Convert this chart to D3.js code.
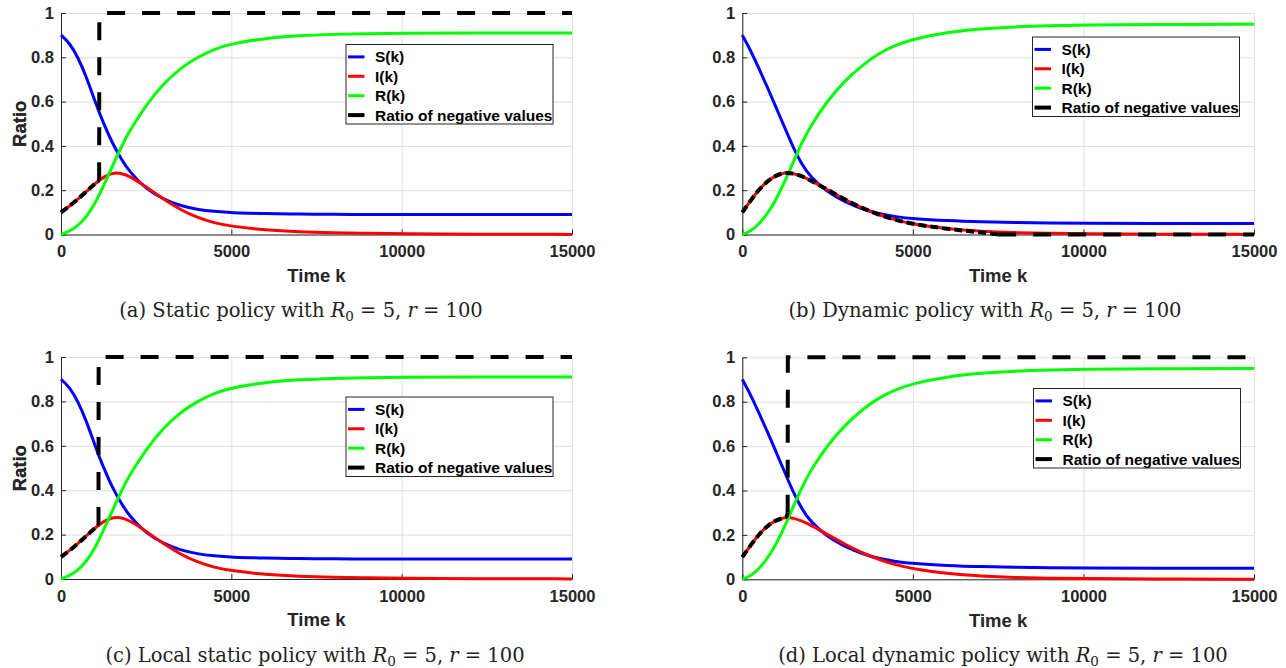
<!DOCTYPE html>
<html lang="en">
<head>
    <meta charset="utf-8"/>
    <title>SIR policies</title>
    <script src="https://d3js.org/d3.v7.min.js"></script>
    <style>
        body { margin: 0; background: #fff; }
        svg text { font-family: "Liberation Sans", Arial, sans-serif; }
        .tick text { font-weight: bold; font-size: 16.5px; fill: #262626; }
        .caption { font-family: "DejaVu Serif", "Liberation Serif", serif; font-size: 19.5px; fill: #222; }
    </style>
</head>
<body>
<svg id="fig" width="1286" height="668"></svg>
<script>
    const timeK = [0, 250, 500, 750, 1000, 1250, 1500, 1750, 2000, 2500, 3000, 3500,
        4000, 4500, 5000, 6000, 7000, 8000, 9000, 10000, 12000, 15000];

    // static policy (panels a and c)
    const staticS = [0.90, 0.865, 0.80, 0.71, 0.60, 0.50, 0.415, 0.345, 0.285, 0.205, 0.16, 0.13,
        0.113, 0.104, 0.098, 0.094, 0.092, 0.091, 0.090, 0.090, 0.090, 0.090];
    const staticI = [0.10, 0.128, 0.16, 0.195, 0.23, 0.26, 0.278, 0.278, 0.265, 0.215, 0.16, 0.112,
        0.076, 0.052, 0.037, 0.02, 0.012, 0.008, 0.005, 0.003, 0.0015, 0.0005];
    const staticR = [0, 0.015, 0.04, 0.08, 0.14, 0.22, 0.305, 0.39, 0.465, 0.585, 0.68, 0.75,
        0.80, 0.837, 0.862, 0.886, 0.898, 0.904, 0.907, 0.909, 0.91, 0.91];

    // dynamic policy (panels b and d)
    const dynamicS = [0.90, 0.83, 0.745, 0.66, 0.57, 0.48, 0.39, 0.315, 0.26, 0.19, 0.148, 0.116,
        0.093, 0.08, 0.071, 0.062, 0.057, 0.054, 0.052, 0.051, 0.05, 0.05];
    const dynamicI = [0.10, 0.155, 0.205, 0.243, 0.268, 0.28, 0.276, 0.263, 0.245, 0.202, 0.158, 0.12,
        0.089, 0.065, 0.047, 0.025, 0.014, 0.008, 0.005, 0.003, 0.0015, 0.0005];
    const dynamicR = [0, 0.015, 0.048, 0.097, 0.16, 0.24, 0.33, 0.415, 0.49, 0.605, 0.693, 0.763,
        0.818, 0.855, 0.882, 0.913, 0.929, 0.938, 0.943, 0.946, 0.9485, 0.9495];

    // ratio of negative values, [time, ratio] pairs per panel
    const negA = [[0, 0.10], [250, 0.128], [500, 0.16], [750, 0.195], [1000, 0.23], [1120, 0.245],
        [1125, 1], [15000, 1]];
    const negB = [[0, 0.10], [250, 0.155], [500, 0.205], [750, 0.243], [1000, 0.268], [1250, 0.28],
        [1500, 0.276], [1750, 0.263], [2000, 0.245], [2500, 0.202], [3000, 0.158], [3500, 0.12],
        [4000, 0.089], [4500, 0.065], [5000, 0.047], [6000, 0.025], [7000, 0.01], [7500, 0],
        [15000, 0]];
    const negC = [[0, 0.10], [250, 0.128], [500, 0.16], [750, 0.195], [1000, 0.23], [1100, 0.243],
        [1105, 1], [15000, 1]];
    const negD = [[0, 0.10], [250, 0.155], [500, 0.205], [750, 0.243], [1000, 0.268], [1250, 0.278],
        [1310, 0.283], [1330, 0.30], [1335, 1], [15000, 1]];

    const xTicks = [0, 5000, 10000, 15000];
    const yTicks = [0, 0.2, 0.4, 0.6, 0.8, 1];
    const yTickLabels = ["0", "0.2", "0.4", "0.6", "0.8", "1"];
    const legendLabels = ["S(k)", "I(k)", "R(k)", "Ratio of negative values"];
    const seriesColors = ["#0000ff", "#ff0000", "#00ff00", "#000000"];

    const panels = [
        {S: staticS, I: staticI, R: staticR, neg: negA, split: 1120,
            box: [61, 572, 13, 234.5], legend: [346, 44.5], capX: 301, capY: 310,
            tag: "(a) Static policy with "},
        {S: dynamicS, I: dynamicI, R: dynamicR, neg: negB, split: 7500,
            box: [742.3, 1254, 13, 234.5], legend: [1032.5, 37], capX: 985, capY: 310,
            tag: "(b) Dynamic policy with "},
        {S: staticS, I: staticI, R: staticR, neg: negC, split: 1100,
            box: [61, 572, 357, 579], legend: [346, 397], capX: 315, capY: 655,
            tag: "(c) Local static policy with "},
        {S: dynamicS, I: dynamicI, R: dynamicR, neg: negD, split: 1330,
            box: [742.3, 1254, 357.3, 579.3], legend: [1033.5, 388.5], capX: 1003, capY: 655,
            tag: "(d) Local dynamic policy with "}
    ];

    const svg = d3.select("#fig");

    function drawPanel(p) {
        const [x0, x1, y0, y1] = p.box;
        const x = d3.scaleLinear().domain([0, 15000]).range([x0, x1]);
        const y = d3.scaleLinear().domain([0, 1]).range([y1, y0]);
        const g = svg.append("g");

        // grid
        g.append("g").attr("transform", `translate(0,${y1})`)
            .call(d3.axisBottom(x).tickValues(xTicks).tickSize(-(y1 - y0)).tickFormat(""))
            .call(a => a.select(".domain").remove())
            .selectAll("line").attr("stroke", "#dfdfdf");
        g.append("g").attr("transform", `translate(${x0},0)`)
            .call(d3.axisLeft(y).tickValues(yTicks).tickSize(-(x1 - x0)).tickFormat(""))
            .call(a => a.select(".domain").remove())
            .selectAll("line").attr("stroke", "#dfdfdf");

        // axes, ticks point inwards
        g.append("g").attr("transform", `translate(0,${y1})`)
            .call(d3.axisBottom(x).tickValues(xTicks).tickSizeInner(-5).tickSizeOuter(0).tickPadding(11)
                .tickFormat(d3.format("d")))
            .call(a => a.select(".domain").attr("stroke", "#262626"))
            .call(a => a.selectAll("line").attr("stroke", "#262626"));
        g.append("g").attr("transform", `translate(${x0},0)`)
            .call(d3.axisLeft(y).tickValues(yTicks).tickSizeInner(-5).tickSizeOuter(0).tickPadding(7)
                .tickFormat((d, i) => yTickLabels[i]))
            .call(a => a.select(".domain").attr("stroke", "#262626"))
            .call(a => a.selectAll("line").attr("stroke", "#262626"));

        g.append("text")
            .attr("transform", `translate(20,${(y0 + y1) / 2}) rotate(-90)`)
            .attr("text-anchor", "middle").attr("dy", "0.35em")
            .style("font-weight", "bold").style("font-size", "18.5px").attr("fill", "#262626")
            .text("Ratio");
        g.append("text")
            .attr("x", (x0 + x1) / 2).attr("y", y1 + 41).attr("dy", "0.35em")
            .attr("text-anchor", "middle")
            .style("font-weight", "bold").style("font-size", "18.5px").attr("fill", "#262626")
            .text("Time k");

        // curves (B-spline through the read points keeps them smooth)
        const smooth = d3.line().x(d => x(d[0])).y(d => y(d[1])).curve(d3.curveBasis);
        const straight = d3.line().x(d => x(d[0])).y(d => y(d[1]));
        [p.S, p.I, p.R].forEach((vals, i) => {
            g.append("path")
                .datum(timeK.map((t, j) => [t, vals[j]]))
                .attr("d", smooth)
                .attr("fill", "none")
                .attr("stroke", seriesColors[i])
                .attr("stroke-width", 3);
        });
        // negative-value ratio: short dashes where it follows I(k), long ones after
        const before = p.neg.filter(d => d[0] <= p.split);
        const after = p.neg.filter(d => d[0] >= p.split);
        g.append("path").datum(before).attr("d", smooth)
            .attr("fill", "none").attr("stroke", "#000").attr("stroke-width", 4)
            .attr("stroke-dasharray", "8,4");
        g.append("path").datum(after).attr("d", straight)
            .attr("fill", "none").attr("stroke", "#000").attr("stroke-width", 4)
            .attr("stroke-dasharray", "18,17");

        // legend
        const [lx, ly] = p.legend;
        const lg = g.append("g").attr("transform", `translate(${lx},${ly})`);
        lg.append("rect").attr("width", 207).attr("height", 79.5)
            .attr("fill", "#fff").attr("stroke", "#262626").attr("stroke-width", 1);
        legendLabels.forEach((lab, i) => {
            const cy = 12.4 + i * 19.4;
            lg.append("line").attr("x1", 2).attr("x2", 18.5).attr("y1", cy).attr("y2", cy)
                .attr("stroke", seriesColors[i]).attr("stroke-width", i === 3 ? 4 : 3);
            lg.append("text").attr("x", 29).attr("y", cy).attr("dy", "0.35em")
                .style("font-weight", "bold").style("font-size", "15.5px").attr("fill", "#000")
                .text(lab);
        });

        // caption
        const cap = svg.append("text").attr("class", "caption")
            .attr("x", p.capX).attr("y", p.capY).attr("dy", "0.35em").attr("text-anchor", "middle");
        cap.append("tspan").text(p.tag);
        cap.append("tspan").attr("font-style", "italic").text("R");
        cap.append("tspan").attr("font-size", "13.5px").attr("dy", "4").text("0");
        cap.append("tspan").attr("dy", "-4").text(" = 5, ");
        cap.append("tspan").attr("font-style", "italic").text("r");
        cap.append("tspan").text(" = 100");
    }

    panels.forEach(drawPanel);
</script>
</body>
</html>
